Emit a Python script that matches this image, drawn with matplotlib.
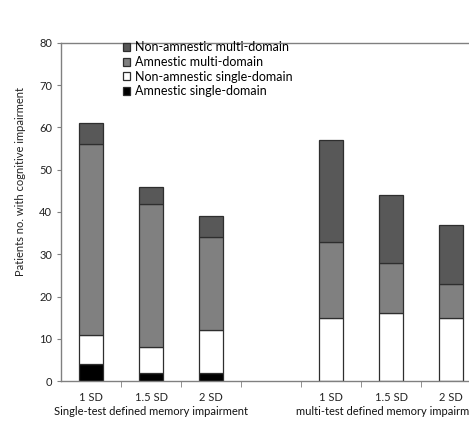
import matplotlib.pyplot as plt
import numpy as np

plt.rcParams['font.family'] = ['Lato', 'DejaVu Sans']

# categories (the empty slot in the middle separates the two groups)
sd_labels = ["1 SD", "1.5 SD", "2 SD", "", "1 SD", "1.5 SD", "2 SD"]
group_labels = ["Single-test defined memory impairment",
                "multi-test defined memory impairment"]

# stacked values, bottom to top
amnestic_single = [4, 2, 2, 0, 0, 0, 0]
nonamnestic_single = [7, 6, 10, 0, 15, 16, 15]
amnestic_multi = [45, 34, 22, 0, 18, 12, 8]
nonamnestic_multi = [5, 4, 5, 0, 24, 16, 14]
has_bar = [1, 1, 1, 0, 1, 1, 1]

series = [
  ("Amnestic single-domain", amnestic_single, "#000000"),
  ("Non-amnestic single-domain", nonamnestic_single, "#ffffff"),
  ("Amnestic multi-domain", amnestic_multi, "#808080"),
  ("Non-amnestic multi-domain", nonamnestic_multi, "#585858"),
]

fig = plt.figure(figsize=(4.69, 4.21), dpi=100)
ax = fig.add_axes([61/469, 40/421, 420/469, 338/421])

x = np.arange(len(sd_labels))
keep = np.array(has_bar, dtype=bool)
bottom = np.zeros(len(x))
handles = []
for name, vals, col in series:
  vals = np.array(vals, dtype=float)
  b = ax.bar(x[keep], vals[keep], 0.39, bottom=bottom[keep], color=col,
             edgecolor="#2e2e2e", linewidth=0.9, label=name)
  handles.append(b)
  bottom += vals

ax.set_xlim(-0.5, 6.5)
ax.set_ylim(0, 80)
ax.set_yticks(range(0, 81, 10))
ax.set_xticks(x)
ax.set_xticklabels(sd_labels)
ax.set_xticks(np.arange(0.5, 6.5, 1), minor=True)
ax.tick_params(axis='x', which='major', length=0, pad=8, labelsize=8, colors="#222222")
ax.tick_params(axis='x', which='minor', length=4, color="#808080")
ax.tick_params(axis='y', length=3, color="#808080", labelsize=8, labelcolor="#222222")

for s in ['left', 'bottom', 'top']:
  ax.spines[s].set_color("#808080")
  ax.spines[s].set_linewidth(1.0)
ax.spines['right'].set_visible(False)

ax.set_ylabel("Patients no. with cognitive impairment", fontsize=8, color="#222222")
ax.yaxis.set_label_coords(-0.083, 0.589)

ax.text(1, -0.075, group_labels[0], transform=ax.get_xaxis_transform(),
        ha='center', va='top', fontsize=8, color="#111111")
ax.text(5, -0.075, group_labels[1], transform=ax.get_xaxis_transform(),
        ha='center', va='top', fontsize=8, color="#111111")

leg = ax.legend(handles[::-1], [h.get_label() for h in handles[::-1]],
                loc='upper left', bbox_to_anchor=(0.135, 1.02), frameon=False,
                fontsize=9, handlelength=0.6, handleheight=0.6,
                handletextpad=0.4, labelspacing=0.22, borderaxespad=0)

fig.savefig("out.png", dpi=100)
